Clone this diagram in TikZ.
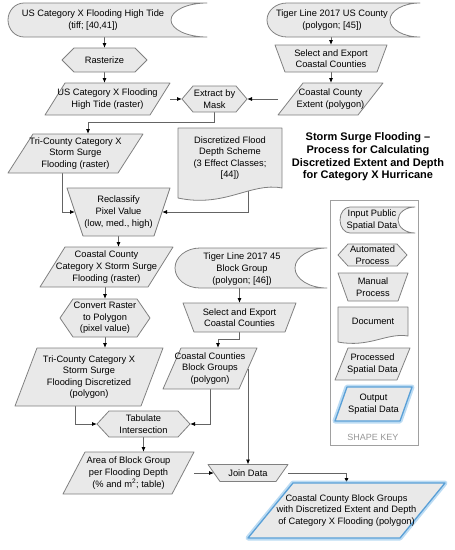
\documentclass[tikz,border=0pt]{standalone}
\usepackage{fontspec}
\setmainfont{Liberation Sans}
\usetikzlibrary{calc,arrows.meta}
\pgfdeclarelayer{conn}
\pgfdeclarelayer{shp}
\pgfsetlayers{conn,shp,main}
\definecolor{shfill}{RGB}{233,233,233}
\definecolor{shline}{RGB}{128,128,128}
\definecolor{cnline}{RGB}{100,100,100}
\definecolor{glow}{RGB}{170,210,240}
\definecolor{glowdark}{RGB}{90,160,215}
\definecolor{keyline}{RGB}{160,160,160}
\definecolor{keytext}{RGB}{150,150,150}
\tikzset{
 shp/.style={fill=shfill, draw=shline, line width=0.8pt, line join=round},
 outshp/.style={fill=shfill, draw=glowdark, line width=1.3pt, line join=round},
 glowshp/.style={draw=glow, line width=5pt, line join=round, opacity=0.8},
 arr/.style={draw=cnline, line width=0.8pt, -{Latex[length=5pt,width=4pt,color=black]}},
 box/.style 2 args={inner sep=0pt, outer sep=0pt, align=center, minimum width=#1pt, minimum height=#2pt, font=\fontsize{9.3}{11.6}\selectfont},
 lbl/.style={inner sep=0pt, align=center, font=\fontsize{9.3}{11.6}\selectfont},
}
\newcommand\sdshape[4][shp]{%
 \path[#1] let \p1=(#2.north west), \p2=(#2.south east), \n1={(\y1-\y2)/2} in
 (\x1+#3,\y1) -- (\x2,\y1) arc[start angle=90,end angle=270,x radius=#4,y radius={\n1*1pt}] -- (\x1+#3,\y2) arc[start angle=270,end angle=90,x radius=#3,y radius={\n1*1pt}] -- cycle;}
\newcommand\hexa[3][shp]{%
 \path[#1] let \p1=(#2.north west), \p2=(#2.south east) in
 (#2.west) -- (\x1+#3,\y1) -- (\x2-#3,\y1) -- (#2.east) -- (\x2-#3,\y2) -- (\x1+#3,\y2) -- cycle;}
\newcommand\para[3][shp]{%
 \path[#1] let \p1=(#2.north west), \p2=(#2.south east) in
 (\x1+#3,\y1) -- (\x2,\y1) -- (\x2-#3,\y2) -- (\x1,\y2) -- cycle;}
\newcommand\manop[3][shp]{%
 \path[#1] let \p1=(#2.north west), \p2=(#2.south east) in
 (\x1,\y1) -- (\x2,\y1) -- (\x2-#3,\y2) -- (\x1+#3,\y2) -- cycle;}
\newcommand\docshape[3][shp]{%
 \path[#1] let \p1=(#2.north west), \p2=(#2.south east), \n1={\x2-\x1} in
 (\x1,\y1) -- (\x2,\y1) -- (\x2,\y2) .. controls (\x2-0.3*\n1,\y2+0.6*#3) and (\x1+0.45*\n1,\y2-2*#3) .. (\x1,\y2-#3) -- cycle;}
\begin{document}
\begin{tikzpicture}[x=1pt,y=-1pt]
\useasboundingbox (0,0) rectangle (455,550);
% nodes
\node[box={199}{34}] (inUS) at (107.5,20) {};
\node[lbl] (inUSt) at (93,20) {US Category X Flooding High Tide\\(tiff; [40,41])};
\node[box={85}{24}] (rast) at (104.5,60) {Rasterize};
\node[box={125}{32}] (usRaster) at (107.5,99) {US Category X Flooding\\High Tide (raster)};
\node[box={65}{26}] (extract) at (214.5,99) {Extract by\\Mask};
\node[box={153}{34}] (inCounty) at (343.5,20) {};
\node[lbl] (inCountyt) at (332,20) {Tiger Line 2017 US County\\(polygon; [45])};
\node[box={112}{27}] (selCounty) at (331,58.5) {Select and Export\\Coastal Counties};
\node[box={105}{32}] (ccExtent) at (330.5,99) {Coastal County\\Extent (polygon)};
\node[box={135}{39}] (triR) at (75.5,153.5) {Tri-County Category X\\Storm Surge\\Flooding (raster)};
\node[box={104}{60}] (doc) at (230,158) {Discretized Flood\\Depth Scheme\\(3 Effect Classes;\\{}[44])};
\node[box={103}{48}] (reclass) at (118.5,212) {Reclassify\\Pixel Value\\(low, med., high)};
\node[box={133}{40}] (ccRaster) at (106.5,267) {Coastal County\\Category X Storm Surge\\Flooding (raster)};
\node[box={90}{38}] (conv) at (105,318) {Convert Raster\\to Polygon\\(pixel value)};
\node[box={148}{58}] (triD) at (89,377) {Tri-County Category X\\Storm Surge\\Flooding Discretized\\(polygon)};
\node[box={93}{26}] (tab) at (143.5,424) {Tabulate\\Intersection};
\node[box={131}{42}] (area) at (128.5,473) {Area of Block Group\\per Flooding Depth\\(\% and m\textsuperscript{2}; table)};
\node[box={152}{40}] (inBG) at (251,268) {};
\node[lbl] (inBGt) at (242,269) {Tiger Line 2017 45\\Block Group\\(polygon; [46])};
\node[box={113}{29}] (selBG) at (239.5,317.5) {Select and Export\\Coastal Counties};
\node[box={94}{41}] (ccBG) at (210,368.5) {Coastal Counties\\Block Groups\\(polygon)};
\node[box={80}{17}] (join) at (248,473) {Join Data};
\node[box={197}{55}] (out) at (346.5,510.5) {Coastal County Block Groups\\with Discretized Extent and Depth\\of Category X Flooding (polygon)};
\node[inner sep=0pt, align=center, font=\bfseries\fontsize{11}{12.7}\selectfont] (title) at (368,157) {Storm Surge Flooding –\\Process for Calculating\\Discretized Extent and Depth\\for Category X Hurricane};
% key
\node[draw=keyline, line width=1pt, inner sep=0pt, minimum width=88pt, minimum height=245pt] (key) at (374,322.5) {};
\node[box={75}{26}] (kIn) at (377.5,220) {};
\node[lbl] (kInt) at (372,220) {Input Public\\Spatial Data};
\node[box={69}{22}] (kAuto) at (372.5,255) {Automated\\Process};
\node[box={70}{28}] (kMan) at (373,287) {Manual\\Process};
\node[box={70}{29}] (kDoc) at (373,321.5) {Document};
\node[box={75}{32}] (kProc) at (372.5,364) {Processed\\Spatial Data};
\node[box={77}{34}] (kOut) at (373.5,404) {Output\\Spatial Data};
\node[inner sep=0pt, text=keytext, font=\fontsize{9}{11}\selectfont] (kTitle) at (373,437) {SHAPE KEY};
% connectors
\begin{pgfonlayer}{conn}
\draw[arr] (inUS.south -| rast.north) -- (rast.north);
\draw[arr] (rast.south) -- (rast.south |- usRaster.north);
\draw[arr] (usRaster) -- (extract.west);
\draw[arr] (inCounty.south -| selCounty.north) -- (selCounty.north);
\draw[arr] (selCounty.south) -- (selCounty.south |- ccExtent.north);
\draw[arr] (ccExtent) -- (extract.east);
\draw[arr] (extract.south) -- ++(0,10) -| ([xshift=12.5pt]triR.north);
\draw[arr] ([xshift=-13.5pt]triR.south) |- ($(reclass.west)+(8pt,0)$);
\draw[arr] ([xshift=18pt]doc.south) |- ($(reclass.east)+(-8pt,0)$);
\draw[arr] (reclass.south) -- (reclass.south |- ccRaster.north);
\draw[arr] (ccRaster.south -| conv.north) -- (conv.north);
\draw[arr] (conv.south) -- (conv.south |- triD.north);
\draw[arr] ([xshift=-14pt]triD.south) |- (tab.west);
\draw[arr] (tab.south) -- (tab.south |- area.north);
\draw[arr] (inBG.south -| selBG.north) -- (selBG.north);
\draw[arr] (selBG.south) -- ++(0,7) -| ([xshift=8pt]ccBG.north);
\draw[arr] (ccBG.south) |- (tab.east);
\draw[arr] (ccBG.center -| join.north) -- (join.north);
\draw[arr] (area) -- ($(join.west)+(6pt,0)$);
\draw[arr] (join) -| (out.north);
\end{pgfonlayer}
% shapes
\begin{pgfonlayer}{shp}
\sdshape{inUS}{16pt}{36pt}
\hexa{rast}{12pt}
\para{usRaster}{20pt}
\hexa{extract}{11pt}
\sdshape{inCounty}{20pt}{30pt}
\manop{selCounty}{10pt}
\para{ccExtent}{25pt}
\para{triR}{25pt}
\docshape{doc}{10pt}
\manop{reclass}{16pt}
\para{ccRaster}{25pt}
\hexa{conv}{13pt}
\para{triD}{22pt}
\hexa{tab}{12pt}
\para{area}{22pt}
\sdshape{inBG}{25pt}{32pt}
\manop{selBG}{11pt}
\para{ccBG}{18pt}
\manop{join}{12pt}
\para[glowshp]{out}{45pt}
\para[outshp]{out}{45pt}
\sdshape{kIn}{10pt}{17pt}
\hexa{kAuto}{10pt}
\manop{kMan}{10pt}
\docshape{kDoc}{6pt}
\para{kProc}{13pt}
\para[glowshp]{kOut}{12pt}
\para[outshp]{kOut}{12pt}
\end{pgfonlayer}
\end{tikzpicture}
\end{document}
